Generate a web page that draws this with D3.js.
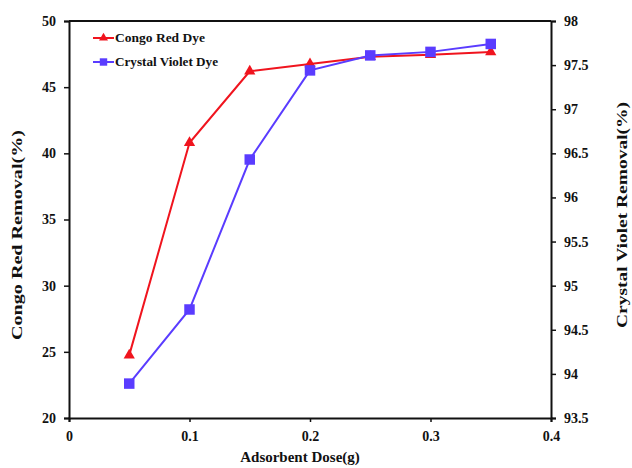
<!DOCTYPE html>
<html><head><meta charset="utf-8">
<script src="https://cdn.jsdelivr.net/npm/d3@7"></script>
<style>body{margin:0;background:#fff}svg{display:block}text{font-family:"Liberation Serif","Times New Roman",serif;font-weight:bold;fill:#111}</style>
</head><body><svg id="c" width="632" height="468"></svg>
<script>
const doses = [0.05, 0.1, 0.15, 0.2, 0.25, 0.3, 0.35];
const congoRed = [24.75, 40.8, 46.2, 46.75, 47.3, 47.45, 47.65];
const crystalViolet = [93.89, 94.73, 96.43, 97.44, 97.61, 97.65, 97.74];
const xTicks = [0, 0.1, 0.2, 0.3, 0.4];
const leftTicks = [20, 25, 30, 35, 40, 45, 50];
const rightTicks = [93.5, 94, 94.5, 95, 95.5, 96, 96.5, 97, 97.5, 98];
const seriesNames = ["Congo Red Dye", "Crystal Violet Dye"];
const red = "#f0141e", blue = "#5a3cff";

const svg = d3.select("#c");
const L = 69, R = 551, T = 21, B = 418;
const x = d3.scaleLinear().domain([0, 0.4]).range([L, R]);
const yL = d3.scaleLinear().domain([20, 50]).range([B, T]);
const yR = d3.scaleLinear().domain([93.5, 98]).range([B, T]);

const fmt = d => String(d);
const gx = svg.append("g").attr("transform", `translate(0,${B})`)
  .call(d3.axisBottom(x).tickValues(xTicks).tickFormat(fmt).tickSize(4).tickPadding(9));
const gl = svg.append("g").attr("transform", `translate(${L},0)`)
  .call(d3.axisLeft(yL).tickValues(leftTicks).tickFormat(fmt).tickSize(5).tickPadding(8));
const gr = svg.append("g").attr("transform", `translate(${R},0)`)
  .call(d3.axisRight(yR).tickValues(rightTicks).tickFormat(fmt).tickSize(5).tickPadding(8));
[gx, gl, gr].forEach(g => {
  g.selectAll(".domain").attr("stroke", "#111").attr("stroke-width", 2);
  g.selectAll(".tick line").attr("stroke", "#111").attr("stroke-width", 1.5);
  g.selectAll("text").attr("font-size", 14).style("font-family", '"Liberation Serif",serif').style("font-weight", "bold");
});
svg.append("line").attr("x1", L).attr("x2", R).attr("y1", T).attr("y2", T).attr("stroke", "#111").attr("stroke-width", 2);

const lineL = d3.line().x((d, i) => x(doses[i])).y(d => yL(d));
const lineR = d3.line().x((d, i) => x(doses[i])).y(d => yR(d));
svg.append("path").datum(congoRed).attr("d", lineL).attr("fill", "none").attr("stroke", red).attr("stroke-width", 2);
svg.append("path").datum(crystalViolet).attr("d", lineR).attr("fill", "none").attr("stroke", blue).attr("stroke-width", 2);

const tri = d3.symbol().type(d3.symbolTriangle).size(55);
const sq = d3.symbol().type(d3.symbolSquare).size(110);
svg.selectAll(".tri").data(congoRed).join("path").attr("d", tri)
  .attr("transform", (d, i) => `translate(${x(doses[i])},${yL(d)})`).attr("fill", red);
svg.selectAll(".sq").data(crystalViolet).join("path").attr("d", sq)
  .attr("transform", (d, i) => `translate(${x(doses[i])},${yR(d)})`).attr("fill", blue);

const leg = [{c: red, y: 38, w: 90}, {c: blue, y: 62, w: 103}];
leg.forEach((l, i) => {
  svg.append("line").attr("x1", 93).attr("x2", 114).attr("y1", l.y).attr("y2", l.y).attr("stroke", l.c).attr("stroke-width", 2);
  svg.append("path").attr("d", i === 0 ? d3.symbol().type(d3.symbolTriangle).size(35)() : d3.symbol().type(d3.symbolSquare).size(55)())
    .attr("transform", `translate(103.5,${l.y})`).attr("fill", l.c);
  svg.append("text").attr("x", 115).attr("y", l.y + 4).attr("font-size", 12)
    .attr("textLength", l.w).attr("lengthAdjust", "spacingAndGlyphs").text(seriesNames[i]);
});

svg.append("text").attr("x", 300).attr("y", 462).attr("text-anchor", "middle").attr("font-size", 15).text("Adsorbent Dose(g)");
svg.append("text").attr("transform", "translate(22,235) rotate(-90)").attr("text-anchor", "middle").attr("font-size", 15)
  .attr("textLength", 210).attr("lengthAdjust", "spacingAndGlyphs").text("Congo Red Removal(%)");
svg.append("text").attr("transform", "translate(627,215) rotate(-90)").attr("text-anchor", "middle").attr("font-size", 15)
  .attr("textLength", 226).attr("lengthAdjust", "spacingAndGlyphs").text("Crystal Violet Removal(%)");
</script></body></html>
